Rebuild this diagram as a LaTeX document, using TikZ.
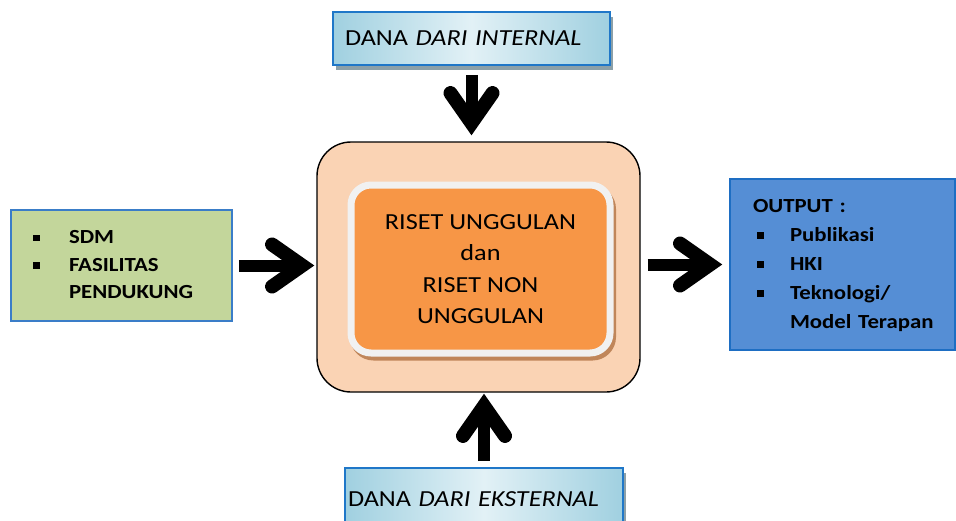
\documentclass[tikz,border=0pt]{standalone}
\usepackage{fontspec}
\setmainfont{Carlito}[FakeStretch=1.14]
\usetikzlibrary{arrows.meta}
\usetikzlibrary{shadows}
\definecolor{danadark}{RGB}{160,208,224}
\definecolor{danalight}{RGB}{226,241,246}
\definecolor{danaborder}{RGB}{31,119,200}
\definecolor{danashadow}{RGB}{140,160,168}
\definecolor{sdmgreen}{RGB}{195,214,155}
\definecolor{sdmborder}{RGB}{58,125,200}
\definecolor{outblue}{RGB}{85,142,213}
\definecolor{outborder}{RGB}{30,110,195}
\definecolor{peach}{RGB}{250,211,180}
\definecolor{risetorange}{RGB}{247,150,70}
\definecolor{risetrim}{RGB}{241,241,241}
\definecolor{risetshadow}{RGB}{192,134,90}

\newcommand{\sqbul}{\rule[2.5pt]{6.5pt}{6.5pt}}

\tikzset{
	danabox/.style={draw=danaborder, line width=1.6pt, left color=danadark, right color=danadark, middle color=danalight,
		drop shadow={shadow xshift=3pt, shadow yshift=-4.5pt, fill=danashadow, opacity=1},
		align=left, inner xsep=0pt, font=\fontsize{23}{28}\selectfont},
	fatarrow/.style={line width=12pt, -{Straight Barb[length=30pt, width=42pt, line width=14pt, line cap=round, line join=miter]}},
}

\begin{document}
\begin{tikzpicture}[x=1pt, y=-1pt]
	\useasboundingbox (0,0) rectangle (956,520);

	% dana atas / bawah
	\node[danabox, minimum width=277pt, minimum height=53pt, text width=253pt] (intern) at (471.5,38.5) {DANA \textit{DARI INTERNAL}};
	\node[danabox, minimum width=278pt, minimum height=62pt, text width=272pt] (ekstern) at (484,499) {DANA \textit{DARI EKSTERNAL}};

	% kotak tengah
	\node[draw=black, line width=1.4pt, fill=peach, rounded corners=34pt, minimum width=323pt, minimum height=250pt] (outer) at (478.5,267) {};
	\node[draw=risetrim, line width=7pt, fill=risetorange, rounded corners=20pt, minimum width=259pt, minimum height=168pt,
		drop shadow={shadow xshift=2.5pt, shadow yshift=-4pt, fill=risetshadow, draw=risetshadow, line width=7pt, opacity=1},
		align=center, font=\fontsize{23}{31.5}\selectfont] (riset) at (480.5,269)
		{RISET UNGGULAN\\dan\\RISET NON\\UNGGULAN};

	% input kiri
	\node[draw=sdmborder, line width=1.5pt, fill=sdmgreen, minimum width=221pt, minimum height=111pt, text width=177pt, align=left,
		font=\bfseries\fontsize{20}{27.5}\selectfont] (sdm) at (121.5,265.5)
		{\begin{tabular}{@{}p{36pt}@{}l@{}}
			\sqbul & SDM\\
			\sqbul & FASILITAS\\
			& PENDUKUNG
		\end{tabular}};

	% output kanan
	\node[draw=outborder, line width=1.5pt, fill=outblue, minimum width=225pt, minimum height=171pt, text width=179pt, align=left,
		font=\bfseries\fontsize{20}{29}\selectfont] (output) at (842.5,264.5)
		{\begin{tabular}{@{}p{37pt}@{}l@{}}
			\multicolumn{2}{@{}l@{}}{OUTPUT :}\\
			\hspace{4pt}\sqbul & Publikasi\\
			\hspace{4pt}\sqbul & HKI\\
			\hspace{4pt}\sqbul & Teknologi/\\
			& Model Terapan
		\end{tabular}};

	% panah
	\draw[fatarrow, shorten <=9pt, shorten >=6pt] (intern.south) -- (intern.south |- outer.north);
	\draw[fatarrow, shorten <=6pt, shorten >=1pt] (ekstern.north) -- (ekstern.north |- outer.south);
	\draw[fatarrow, shorten <=6pt, shorten >=2pt] (sdm.east) -- (sdm.east -| outer.west);
	\draw[fatarrow, shorten <=7pt, shorten >=7pt] (outer.east |- output.west) -- (output.west);
\end{tikzpicture}
\end{document}
